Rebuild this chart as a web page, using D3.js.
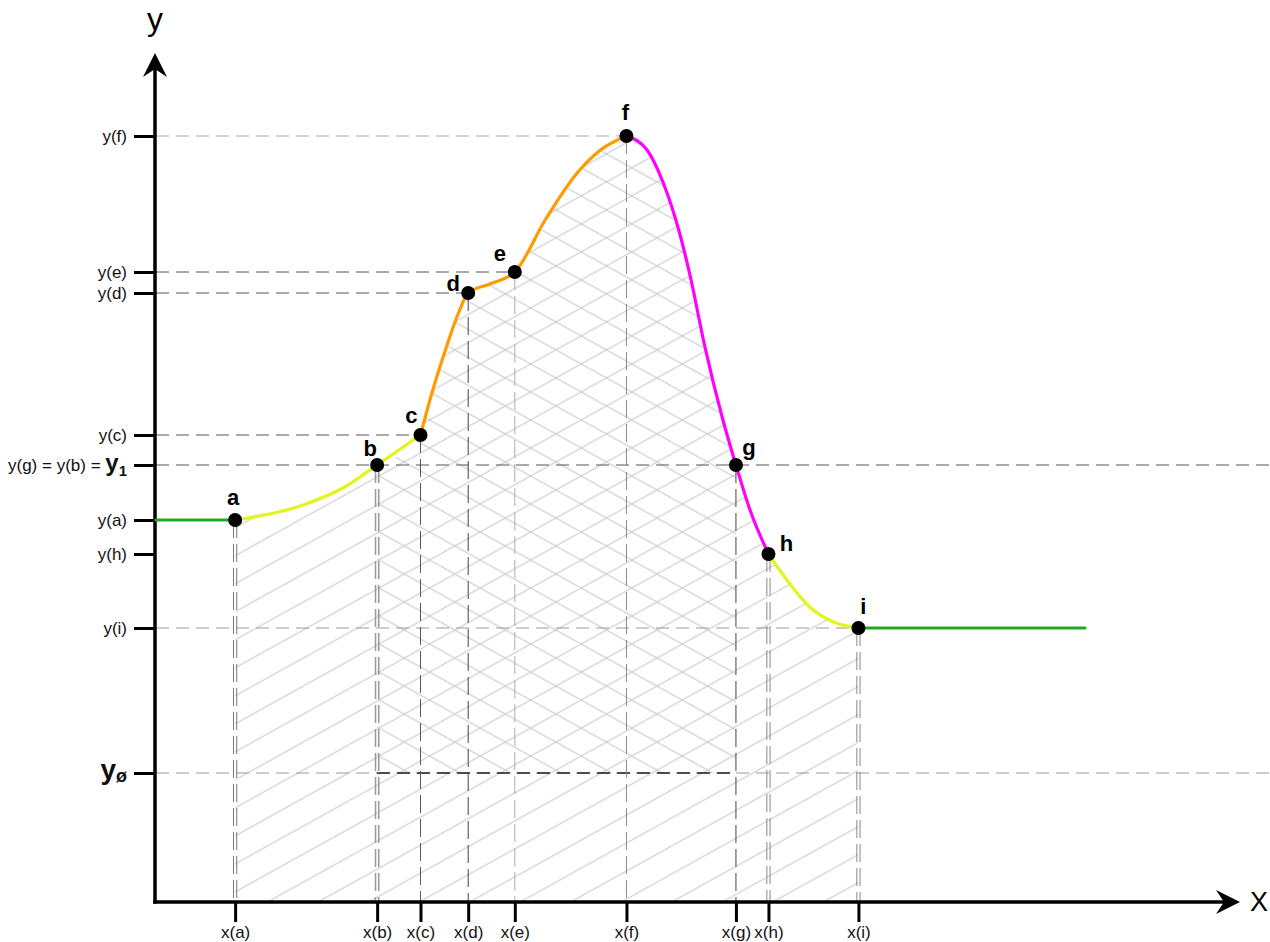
<!DOCTYPE html>
<html><head><meta charset="utf-8">
<script src="https://cdn.jsdelivr.net/npm/d3@7"></script>
<style>
html,body{margin:0;padding:0;background:#fff;}
svg{display:block;font-family:"Liberation Sans",Arial,sans-serif;}
</style></head><body>
<svg id="chart" width="1270" height="942"></svg>
<script>
// ---------- DATA ----------
const pointNames = ["a","b","c","d","e","f","g","h","i"];
const pointX = [0.73, 2.04, 2.44, 2.88, 3.31, 4.34, 5.35, 5.65, 6.48];
const pointY = [3.82, 4.37, 4.67, 6.09, 6.30, 7.66, 4.37, 3.48, 2.74];
const yZeroLevel = 1.29;          // y-ø level
const greenStartX = 0, greenEndX = 8.57;

// curve segments
const yellow1X = [0.73, 1.33, 1.74, 2.04, 2.44];
const yellow1Y = [3.82, 3.96, 4.15, 4.37, 4.67];
const orangeX  = [2.44, 2.54, 2.67, 2.79, 2.88, 3.08, 3.31, 3.59, 3.87, 4.10, 4.34];
const orangeY  = [4.67, 5.07, 5.52, 5.89, 6.09, 6.18, 6.30, 6.82, 7.27, 7.52, 7.66];
const magentaX = [4.34, 4.53, 4.68, 4.83, 4.93, 5.06, 5.23, 5.35, 5.48, 5.65];
const magentaY = [7.66, 7.52, 7.19, 6.69, 6.25, 5.57, 4.82, 4.37, 3.92, 3.48];
const yellow2X = [5.65, 5.82, 6.03, 6.25, 6.48];
const yellow2Y = [3.48, 3.22, 2.95, 2.80, 2.74];

const xTickLabels = ["x(a)","x(b)","x(c)","x(d)","x(e)","x(f)","x(g)","x(h)","x(i)"];
const yTickValues = [7.66, 6.30, 6.09, 4.67, 4.37, 3.82, 3.48, 2.74, 1.29];
const yTickLabels = ["y(f)","y(e)","y(d)","y(c)","y(g) = y(b) = y_1","y(a)","y(h)","y(i)","y_ø"];

// ---------- STYLE ----------
const colors = {green:"#23a823", yellow:"#e3f41f", orange:"#ff9b00", magenta:"#ff00ff"};
const labelOffsets = {a:[-2,-23],b:[-7,-17],c:[-9,-20],d:[-15,-10],e:[-15,-19],f:[-1,-24],g:[13,-18],h:[18,-11],i:[5,-22]};
const vGuide = {a:{dbl:true,c:"#777",w:1},b:{dbl:true,c:"#999",w:1.5},c:{c:"#555",w:1},d:{c:"#444",w:1},
  e:{c:"#aaa",w:1},f:{c:"#888",w:1},g:{c:"#444",w:1},h:{dbl:true,c:"#888",w:1},i:{dbl:true,c:"#888",w:1}};

const svg = d3.select("#chart");
const x = d3.scaleLinear().domain([0,10]).range([156,1240]);
const y = d3.scaleLinear().domain([0,8.5]).range([902,52]);

// ---------- HATCH PATTERNS ----------
const defs = svg.append("defs");
function hatch(id, angle){
  const p = defs.append("pattern").attr("id",id).attr("patternUnits","userSpaceOnUse")
    .attr("width",60).attr("height",24.5).attr("patternTransform",`rotate(${angle})`);
  p.append("line").attr("x1",0).attr("x2",60).attr("y1",12).attr("y2",12)
    .attr("stroke","#c4c4c4").attr("stroke-width",1);
}
hatch("h1",-29); hatch("h2",29);

const zip = (xs,ys)=>xs.map((v,i)=>[v,ys[i]]);
const segs = [zip(yellow1X,yellow1Y), zip(orangeX,orangeY), zip(magentaX,magentaY), zip(yellow2X,yellow2Y)];
let all = [];
segs.forEach((s,k)=>{ all = all.concat(k===0 ? s : s.slice(1)); });

const areaA = d3.area().x(d=>x(d[0])).y0(y(0)).y1(d=>y(d[1])).curve(d3.curveMonotoneX);
svg.append("path").attr("d",areaA(all)).attr("fill","url(#h1)");
const bX = pointX[1], gX = pointX[6];
const regB = all.filter(d=>d[0]>=bX-1e-9 && d[0]<=gX+1e-9);
const areaB = d3.area().x(d=>x(d[0])).y0(y(yZeroLevel)).y1(d=>y(d[1])).curve(d3.curveMonotoneX);
svg.append("path").attr("d",areaB(regB)).attr("fill","url(#h2)");

// ---------- GUIDE LINES ----------
const guides = svg.append("g").attr("fill","none");
function hLine(yv, x2, color, w, dash){
  guides.append("line").attr("x1",x(0)).attr("x2",x2).attr("y1",y(yv)).attr("y2",y(yv))
    .attr("stroke",color).attr("stroke-width",w).attr("stroke-dasharray",dash||"13,7");
}
hLine(pointY[5], x(pointX[5]), "#aaa", 1);
hLine(pointY[4], x(pointX[4]), "#555", 1);
hLine(pointY[3], x(pointX[3]), "#555", 1);
hLine(pointY[2], x(pointX[2]), "#555", 1);
hLine(pointY[1], 1270, "#555", 1);
hLine(pointY[8], x(pointX[8]), "#999", 1);
hLine(yZeroLevel, 1270, "#999", 1);
guides.append("line").attr("x1",x(bX)).attr("x2",x(gX)).attr("y1",y(yZeroLevel)).attr("y2",y(yZeroLevel))
  .attr("stroke","#222").attr("stroke-width",1.5).attr("stroke-dasharray","13,7");

pointNames.forEach((n,i)=>{
  const s = vGuide[n], px = x(pointX[i]);
  const offs = s.dbl ? [-1.6,1.6] : [0];
  offs.forEach(o=>{
    guides.append("line").attr("x1",px+o).attr("x2",px+o).attr("y1",y(pointY[i])).attr("y2",y(0))
      .attr("stroke",s.c).attr("stroke-width",s.w).attr("stroke-dasharray","18,6");
  });
});

// ---------- AXES ----------
const gy = svg.append("g").attr("transform",`translate(${x(0)-1},0)`)
  .call(d3.axisLeft(y).tickValues(yTickValues).tickFormat((d,i)=>yTickLabels[i]).tickSize(21).tickPadding(7));
gy.attr("font-size",17).attr("font-family",null);
gy.select(".domain").remove();
gy.selectAll(".tick line").attr("stroke","#000").attr("stroke-width",3);
gy.selectAll(".tick text").attr("fill","#111").each(function(d,i){
  const lab = yTickLabels[i];
  if(lab.indexOf("_")<0) return;
  const [pre, sub] = lab.split("_");
  const t = d3.select(this).text(null);
  const base = pre.slice(0,-1), main = pre.slice(-1);
  if(base) t.append("tspan").text(base);
  const big = base ? 24 : 28;
  t.append("tspan").attr("font-weight","bold").attr("font-size",big).text(main);
  t.append("tspan").attr("font-weight","bold").attr("font-size",base?15:18).attr("dy",base?5:3).text(sub);
});

const gx = svg.append("g").attr("transform",`translate(0,${y(0)})`)
  .call(d3.axisBottom(x).tickValues(pointX).tickFormat((d,i)=>xTickLabels[i]).tickSize(20).tickPadding(4));
gx.attr("font-size",17).attr("font-family",null);
gx.select(".domain").remove();
gx.selectAll(".tick line").attr("stroke","#000").attr("stroke-width",3);
gx.selectAll(".tick text").attr("fill","#111");

const ax0 = x(0)-1, ay0 = y(0);
const yTip = y(8.49), xTip = x(10);
svg.append("line").attr("x1",ax0).attr("x2",ax0).attr("y1",ay0+1.75).attr("y2",yTip+14)
  .attr("stroke","#000").attr("stroke-width",3.5);
svg.append("path").attr("d",`M${ax0},${yTip} L${ax0+12},${yTip+24} L${ax0},${yTip+16} L${ax0-12},${yTip+24} Z`).attr("fill","#000");
svg.append("line").attr("x1",ax0-1.75).attr("x2",xTip-14).attr("y1",ay0).attr("y2",ay0)
  .attr("stroke","#000").attr("stroke-width",3.5);
svg.append("path").attr("d",`M${xTip},${ay0} L${xTip-24},${ay0-12} L${xTip-16},${ay0} L${xTip-24},${ay0+12} Z`).attr("fill","#000");
svg.append("text").attr("x",ax0).attr("y",30).attr("text-anchor","middle").attr("font-size",32).text("y");
svg.append("text").attr("x",xTip+19).attr("y",ay0+9).attr("text-anchor","middle").attr("font-size",27).text("X");

// ---------- CURVES ----------
const line = d3.line().x(d=>x(d[0])).y(d=>y(d[1])).curve(d3.curveMonotoneX);
const curves = svg.append("g").attr("fill","none").attr("stroke-width",3.2).attr("stroke-linecap","round");
curves.append("path").attr("d",line([[greenStartX,pointY[0]],[pointX[0],pointY[0]]])).attr("stroke",colors.green);
curves.append("path").attr("d",line([[pointX[8],pointY[8]],[greenEndX,pointY[8]]])).attr("stroke",colors.green);
curves.append("path").attr("d",line(segs[0])).attr("stroke",colors.yellow);
curves.append("path").attr("d",line(segs[1])).attr("stroke",colors.orange);
curves.append("path").attr("d",line(segs[2])).attr("stroke",colors.magenta);
curves.append("path").attr("d",line(segs[3])).attr("stroke",colors.yellow);

// ---------- POINTS ----------
const pts = svg.append("g");
pointNames.forEach((n,i)=>{
  const px = x(pointX[i]), py = y(pointY[i]);
  pts.append("circle").attr("cx",px).attr("cy",py).attr("r",7).attr("fill","#000");
  const o = labelOffsets[n];
  pts.append("text").attr("x",px+o[0]).attr("y",py+o[1]).attr("dy","0.35em")
    .attr("text-anchor","middle").attr("font-weight","bold").attr("font-size",22).text(n);
});
</script>
</body></html>
